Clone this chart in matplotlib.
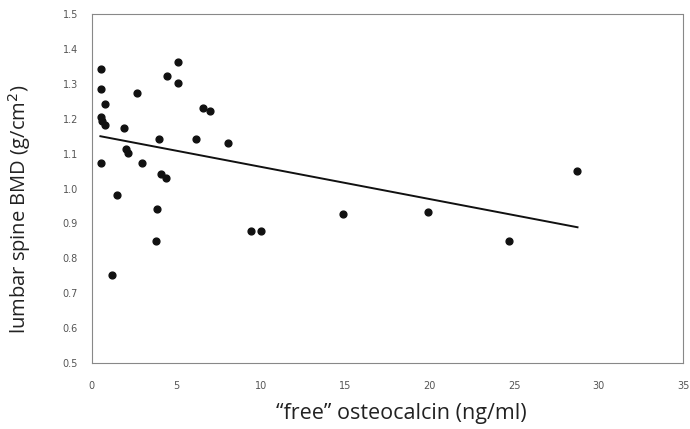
import matplotlib
matplotlib.use("Agg")
import matplotlib.pyplot as plt

# free osteocalcin (ng/ml) vs lumbar spine BMD (g/cm2)
osteocalcin = [0.55, 0.55, 0.77, 0.55, 0.59, 0.81, 0.55, 1.22, 1.48, 1.90,
               2.05, 2.17, 2.67, 2.95, 3.78, 3.89, 3.97, 4.11, 4.37, 4.43,
               5.08, 5.12, 6.19, 6.60, 7.02, 8.07, 9.45, 10.04, 14.85, 19.93,
               24.67, 28.7]
bmd = [1.344, 1.284, 1.243, 1.204, 1.195, 1.183, 1.072, 0.752, 0.982, 1.173,
       1.113, 1.103, 1.273, 1.072, 0.851, 0.941, 1.142, 1.042, 1.031, 1.322,
       1.362, 1.303, 1.142, 1.232, 1.221, 1.130, 0.878, 0.878, 0.927, 0.934,
       0.851, 1.051]

# regression line end points
line_x = [0.51, 28.75]
line_y = [1.150, 0.889]

x_ticks = [0, 5, 10, 15, 20, 25, 30, 35]
y_ticks = [0.5, 0.6, 0.7, 0.8, 0.9, 1.0, 1.1, 1.2, 1.3, 1.4, 1.5]

fig = plt.figure(figsize=(6.9, 4.29), dpi=100)
ax = fig.add_axes([0.133, 0.154, 0.857, 0.813])

ax.scatter(osteocalcin, bmd, s=24, color="#111111", zorder=3)
ax.plot(line_x, line_y, color="#111111", lw=1.4)

ax.set_xlim(0, 35)
ax.set_ylim(0.5, 1.5)
ax.set_xticks(x_ticks)
ax.set_yticks(y_ticks)
ax.set_xticklabels([str(t) for t in x_ticks])
ax.set_yticklabels(["%.1f" % t for t in y_ticks])
ax.tick_params(length=0, labelsize=7, colors="#555555")
ax.tick_params(axis="x", pad=13)
ax.tick_params(axis="y", pad=10)

for s in ax.spines.values():
    s.set_color("#888888")
    s.set_linewidth(0.8)
ax.spines["top"].set_linestyle((0, (3, 1)))
ax.spines["right"].set_linestyle((0, (3, 1)))

ax.set_xlabel("\u201cfree\u201d osteocalcin (ng/ml)", fontsize=15.5,
              family="Open Sans", color="#222222")
ax.set_ylabel("lumbar spine BMD (g/cm$^2$)", fontsize=14.5,
              family="Open Sans", color="#222222")
ax.xaxis.set_label_coords(0.523, -0.115)
ax.yaxis.set_label_coords(-0.10, 0.44)

fig.savefig("out.png", dpi=100)
